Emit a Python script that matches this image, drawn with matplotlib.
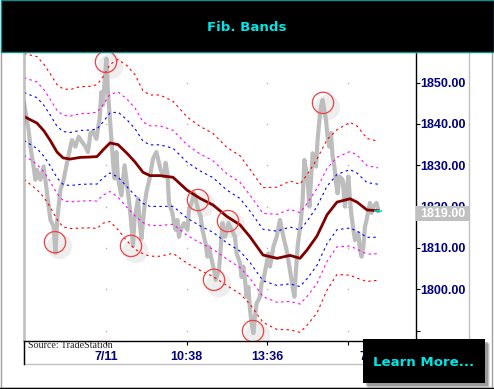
import matplotlib
matplotlib.use("Agg")
import matplotlib.pyplot as plt
import matplotlib.transforms as mtransforms
from matplotlib.lines import Line2D
from matplotlib.patches import Rectangle

W, H, DPI = 494, 389, 100

COLORS = {
    "price": "#bdbdbd",
    "ma": "#800000",
    "inner": "#0000ff",
    "middle": "#ff00ff",
    "outer": "#ff0000",
    "pivot": "#f04040",
    "shadow": "#eeeeee",
    "navy": "#000080",
    "frame": "#c0c0c0",
    "cyan": "#00e5e5",
    "teal": "#118c8c",
}

# price path: (bar, price)
price_path = [
    (0, 1845.0), (2.3, 1838.6), (3.2, 1834.5), (4.8, 1829.7), (5.7, 1826.5),
    (6.5, 1828.9), (8.2, 1826.5), (9.8, 1829.7), (10.7, 1826.5), (11.5, 1823.3),
    (13.2, 1816.8), (14.8, 1815.2), (15.7, 1808.8), (16.5, 1816.0), (17.3, 1820.0),
    (18.2, 1824.0), (19.8, 1826.5), (21.5, 1830.6), (23.2, 1834.5), (24, 1836.1),
    (25.7, 1834.5), (27.3, 1836.9), (29, 1835.7), (30.7, 1834.5), (32, 1833.2),
    (33.2, 1837.8), (34.5, 1838.1), (36.2, 1836.4), (37.8, 1841.3), (38.7, 1847.7),
    (39.5, 1844.6), (40.3, 1850.2), (41.2, 1855.8), (42, 1847.7), (42.8, 1842.2),
    (43.7, 1836.4), (44.5, 1830.8), (45.3, 1826.8), (46.2, 1833.2), (47, 1826.8),
    (48.7, 1822.7), (50.3, 1830.0), (52, 1823.5), (52.8, 1820.3), (53.7, 1815.5),
    (54.5, 1810.6), (55.3, 1817.1), (56.2, 1819.5), (57, 1821.9), (57.8, 1816.3),
    (58.7, 1812.2), (60.3, 1820.3), (61.2, 1823.5), (62.8, 1826.8), (64.5, 1831.6),
    (66.2, 1833.2), (68.3, 1828.9), (70, 1827.3), (70.8, 1830.6), (71.7, 1828.1),
    (72.5, 1820.9), (74.2, 1818.5), (75, 1816.0), (75.8, 1814.4), (76.7, 1816.8),
    (77.5, 1812.7), (78.3, 1814.4), (80, 1816.0), (81.7, 1814.4), (82.5, 1819.2),
    (84.2, 1821.6), (85, 1823.3), (86.7, 1820.0), (88.3, 1817.6), (89.2, 1814.4),
    (90.8, 1811.1), (91.7, 1807.9), (92.5, 1810.3), (94.2, 1806.3), (95, 1804.7),
    (95.8, 1802.3), (97.5, 1804.7), (98.3, 1809.5), (99.2, 1816.0), (100.5, 1812.7),
    (102.2, 1816.0), (103.8, 1814.4), (105.5, 1812.7), (106.3, 1808.7), (108, 1806.3),
    (108.8, 1803.0), (109.7, 1805.5), (110.5, 1802.3), (111.3, 1798.2), (112.2, 1800.6),
    (113, 1795.0), (113.8, 1791.8), (114.7, 1789.4), (115.5, 1793.4), (116.3, 1796.6),
    (118, 1798.2), (118.8, 1801.5), (119.7, 1802.3), (121.3, 1806.3), (122.2, 1808.7),
    (123, 1805.5), (124.7, 1810.3), (126.3, 1812.7), (128, 1816.8), (129.7, 1812.7),
    (131.3, 1809.5), (132.7, 1805.5), (134.3, 1800.6), (135.2, 1798.2), (136, 1804.7),
    (136.8, 1810.3), (138.5, 1816.8), (139.3, 1821.6), (140.2, 1831.3), (141.8, 1826.5),
    (142.7, 1820.0), (143.5, 1826.5), (144.3, 1832.9), (146, 1829.7), (146.8, 1836.1),
    (147.7, 1841.0), (148.5, 1844.2), (149.3, 1845.8), (151, 1841.0), (151.8, 1836.9),
    (152.7, 1834.5), (153.5, 1837.8), (154.3, 1832.1), (155.2, 1829.7), (156, 1825.7),
    (156.8, 1823.2), (157.7, 1827.3), (159.3, 1826.5), (160.5, 1820.0), (161.3, 1824.0),
    (162.2, 1827.3), (163, 1821.6), (163.8, 1817.6), (164.7, 1814.4), (165.5, 1811.9),
    (167.2, 1813.6), (168, 1809.5), (168.8, 1807.9), (169.7, 1810.3), (170.5, 1815.2),
    (171.3, 1816.8), (172.2, 1819.2), (173, 1820.9), (173.8, 1818.5), (174.7, 1820.0),
    (176.3, 1820.9), (177.2, 1819.0),
]

# moving average and outer band half-width at the same bars
ma_bars = [0, 6.5, 10, 13, 16.5, 19.5, 23, 28, 33, 36.5, 39.5, 43, 47, 51.5, 55.5,
           59.5, 63, 68, 74.5, 81.5, 88, 94.5, 101.5, 108, 113, 119.5, 126.5, 133,
           138, 141.5, 146.5, 151.5, 156.5, 163, 166.5, 171.5, 177]
ma_vals = [1841.8, 1840.2, 1838.3, 1836.1, 1833.2, 1831.8, 1831.5, 1831.9, 1832.0,
           1832.1, 1833.7, 1835.4, 1835.0, 1832.9, 1830.8, 1828.3, 1827.5, 1827.5,
           1827.1, 1824.0, 1822.0, 1820.4, 1817.6, 1815.6, 1812.7, 1808.3, 1807.5,
           1808.2, 1807.5, 1809.5, 1812.9, 1818.0, 1821.1, 1821.9, 1821.1, 1819.2,
           1819.0]
band_width = [15.2, 16.1, 16.1, 16.1, 16.3, 16.7, 16.8, 17.1, 17.1, 17.4, 17.7, 19.0,
              20.6, 21.2, 21.1, 19.7, 19.5, 19.5, 18.4, 17.7, 17.4, 17.3, 16.7, 16.7,
              16.3, 16.3, 17.2, 18.0, 17.9, 18.2, 18.6, 18.2, 17.5, 18.5, 18.4, 17.3,
              16.8]
fib_ratios = [0.382, 0.618, 1.0]

pivot_bars = [15.5, 41, 53.5, 87, 95, 102, 114.5, 149.5]
pivot_prices = [1811.4, 1855.0, 1810.5, 1821.6, 1802.3, 1816.5, 1789.9, 1845.1]

x_tick_bars = [41, 81.3, 121.6, 161.9, 174]
x_tick_labels = ["7/11", "10:38", "13:36", "", "7/12"]
grid_bars = [41, 81.3, 121.6, 161.9]
y_ticks = [1790, 1800, 1810, 1820, 1830, 1840, 1850]
y_tick_labels = ["", "1800.00", "1810.00", "1820.00", "1830.00", "1840.00", "1850.00"]
last_price = 1819.00


def fig_rect(x0, y0, x1, y1, **kw):
    # pixel box (top-left origin) -> figure rectangle
    return Rectangle((x0 / W, 1 - y1 / H), (x1 - x0) / W, (y1 - y0) / H,
                     transform=fig.transFigure, **kw)


fig = plt.figure(figsize=(W / DPI, H / DPI), dpi=DPI, facecolor="white")

# outer frame and plot frame
fig.add_artist(fig_rect(0.5, 0.5, 492, 388, fill=False, ec="#a0a0a0", lw=1.0))
fig.add_artist(Line2D([0, 1], [1 - 387.5 / H] * 2, transform=fig.transFigure,
                      color="black", lw=1.0))
fig.add_artist(fig_rect(24, 52, 469, 364, fill=False, ec=COLORS["frame"], lw=1.0))
fig.add_artist(Line2D([24 / W] * 2, [1 - 341 / H, 1 - 364 / H],
                      transform=fig.transFigure, color="black", lw=1.0))

ax = fig.add_axes([24 / W, 1 - 341 / H, (415.7 - 24) / W, (341 - 52) / H])
ax.set_xlim(0, 195.85)
ax.set_ylim(1787.5, 1857.4)
ax.set_facecolor("none")
ax.spines["top"].set_visible(False)
for side in ("left", "right", "bottom"):
    ax.spines[side].set_linewidth(1.0)

# grid dots
for tx in grid_bars:
    ax.scatter([tx] * len(y_ticks), y_ticks, s=1.2, color="#b0b0b0", lw=0, zorder=1)

# pivot shadows
shadow_tr = mtransforms.offset_copy(ax.transData, fig=fig, x=4, y=-4, units="dots")
ax.scatter(pivot_bars, pivot_prices, s=330, color=COLORS["shadow"], lw=0,
           transform=shadow_tr, zorder=1)

bars = [b for b, _ in price_path]
prices = [p for _, p in price_path]
ax.plot(bars, prices, color=COLORS["price"], lw=3.0, zorder=2)

for ratio, col in zip(fib_ratios, (COLORS["inner"], COLORS["middle"], COLORS["outer"])):
    upper = [m + w * ratio for m, w in zip(ma_vals, band_width)]
    lower = [m - w * ratio for m, w in zip(ma_vals, band_width)]
    for vals in (upper, lower):
        ax.plot(ma_bars, vals, color=col, lw=0.8, ls=(0, (2.2, 3.0)), zorder=3)

ax.plot(ma_bars, ma_vals, color=COLORS["ma"], lw=2.0, zorder=4)

ax.scatter(pivot_bars, pivot_prices, s=235, facecolors="none",
           edgecolors=COLORS["pivot"], linewidths=0.9, zorder=5)

ax.plot([bars[-1]], [last_price], marker="_", ms=6, mew=1.2, color="#00e0e0", zorder=6)

# axes ticks
ax.yaxis.tick_right()
ax.set_yticks(y_ticks)
ax.set_yticklabels(y_tick_labels)
ax.set_xticks(x_tick_bars)
ax.set_xticklabels(x_tick_labels)
ax.tick_params(axis="y", direction="out", length=3, width=0.8, pad=0.5,
               labelsize=9, labelcolor=COLORS["navy"])
ax.tick_params(axis="x", direction="out", length=3, width=0.8, pad=4.2,
               labelsize=9, labelcolor=COLORS["navy"])
for lab in ax.get_xticklabels() + ax.get_yticklabels():
    lab.set_fontfamily("Liberation Sans")
    lab.set_fontweight("bold")

# last price box
fig.canvas.draw()
y_px = H - ax.transData.transform((0, last_price))[1]
fig.add_artist(fig_rect(416, y_px - 5, 469, y_px + 10.7, color=COLORS["frame"], lw=0,
                        zorder=10))
fig.text(442.5 / W, 1 - (y_px + 3) / H, f"{last_price:.2f}", color="white",
         ha="center", va="center", fontsize=9, fontweight="bold",
         family="Liberation Sans", zorder=11)

# title banner
fig.add_artist(fig_rect(0.5, 0.5, 493.5, 52, color="black", ec=COLORS["teal"], lw=1.0))
fig.text(247 / W, 1 - 27.5 / H, "Fib. Bands", color=COLORS["cyan"], ha="center",
         va="center", fontsize=9.6, fontweight="bold", family="DejaVu Sans")

fig.text(28 / W, 1 - 345.5 / H, "Source: TradeStation", color="#222222", ha="left",
         va="center", fontsize=7.2, family="Liberation Serif")

# learn more button
for off, a in ((5, 0.15), (4, 0.25), (3, 0.35)):
    fig.add_artist(fig_rect(363 + off, 339 + off, 485 + off, 383 + off,
                            color="#555555", alpha=a, lw=0, zorder=12))
fig.add_artist(fig_rect(363, 339, 485, 383, color="black", lw=0, zorder=13))
fig.text(424 / W, 1 - 362 / H, "Learn More...", color=COLORS["cyan"], ha="center",
         va="center", fontsize=9.6, fontweight="bold", family="DejaVu Sans", zorder=14)

fig.savefig("out.png", dpi=DPI, facecolor="white")
